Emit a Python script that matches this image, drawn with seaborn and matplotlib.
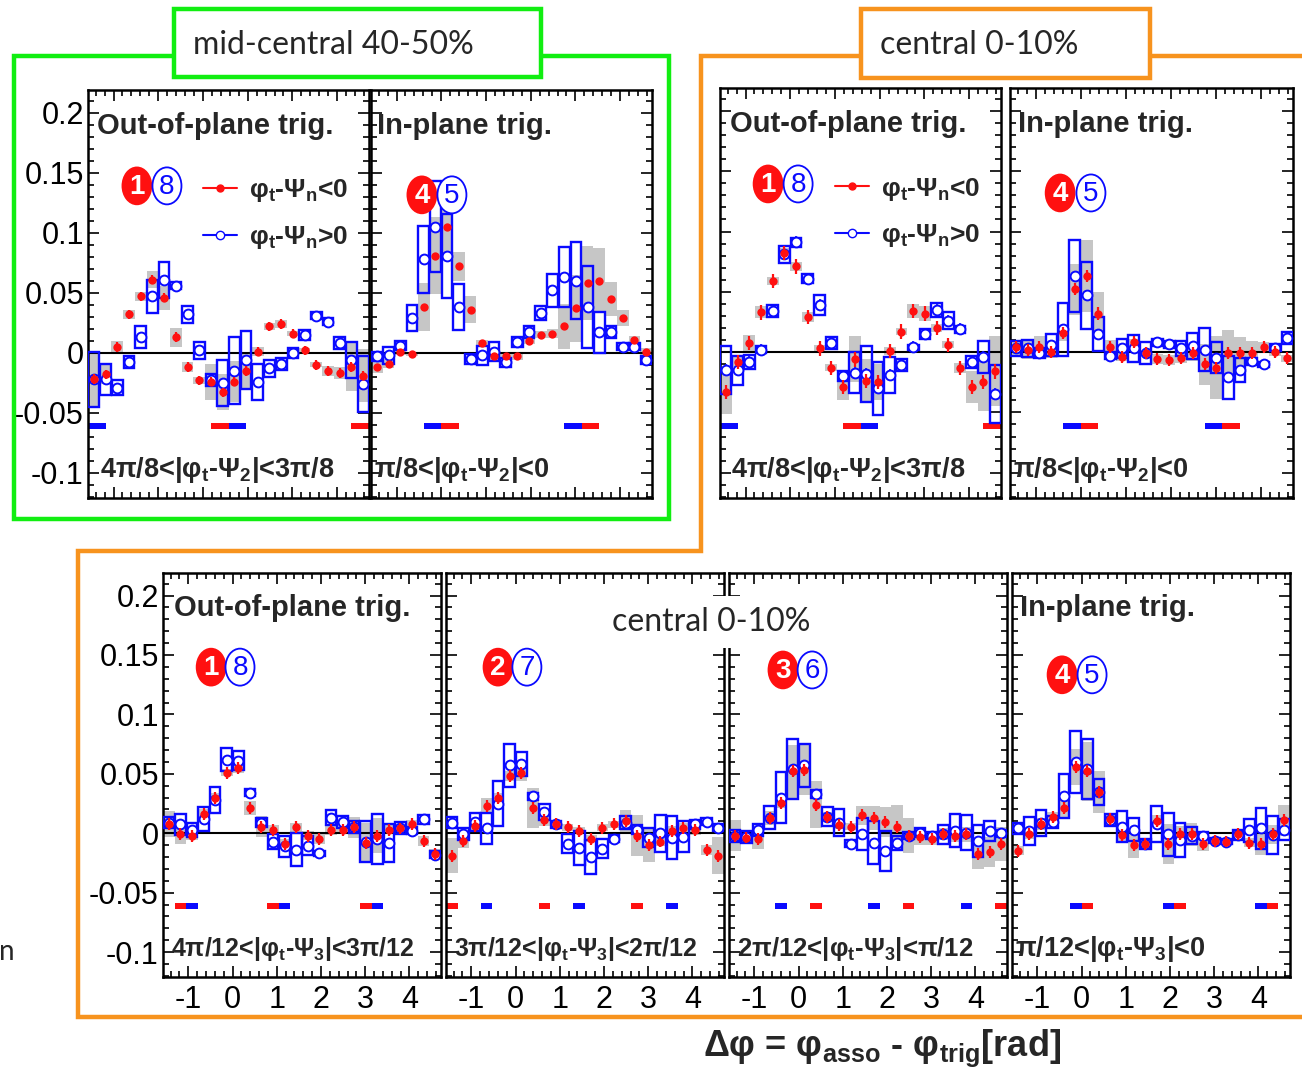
import numpy as np
import matplotlib
matplotlib.use("Agg")
import matplotlib.pyplot as plt
from matplotlib.patches import Rectangle, Ellipse
from matplotlib.lines import Line2D
from matplotlib.ticker import MultipleLocator, FuncFormatter
import seaborn as sns

W, H = 1302, 1081
PI = np.pi

# Δφ bin centres: 24 bins of width π/12 covering [-π/2, 3π/2)
dphi = -PI / 2 + PI / 24 + np.arange(24) * PI / 12

# ---------------- mid-central 40-50 %, Ψ2, out-of-plane trigger ----------------
mid_oop_red = [-0.022, -0.018, 0.005, 0.032, 0.047, 0.061, 0.046, 0.013, -0.012, -0.023, -0.024, -0.033,
               -0.024, -0.015, 0.001, 0.022, 0.024, 0.016, 0.002, -0.010, -0.015, -0.017, -0.012, -0.019]
mid_oop_red_sys = [0.023, 0.008, 0.005, 0.004, 0.004, 0.007, 0.010, 0.008, 0.004, 0.003, 0.015, 0.015,
                   0.017, 0.014, 0.004, 0.003, 0.003, 0.002, 0.002, 0.002, 0.004, 0.005, 0.020, 0.022]
mid_oop_blue = [-0.022, -0.022, -0.029, -0.008, 0.013, 0.047, 0.061, 0.056, 0.032, 0.002, -0.023, -0.025,
                -0.015, -0.006, -0.024, -0.013, -0.009, 0.000, 0.015, 0.031, 0.026, 0.008, -0.006, -0.026]
mid_oop_blue_sys = [0.023, 0.013, 0.006, 0.005, 0.009, 0.014, 0.015, 0.003, 0.007, 0.007, 0.005, 0.019,
                    0.028, 0.024, 0.015, 0.007, 0.005, 0.004, 0.004, 0.003, 0.003, 0.005, 0.015, 0.023]

# ---------------- mid-central 40-50 %, Ψ2, in-plane trigger ----------------
mid_ip_red = [-0.012, -0.009, 0.001, -0.001, 0.038, 0.081, 0.105, 0.072, 0.036, 0.008, -0.003, -0.003,
              -0.003, 0.010, 0.015, 0.016, 0.022, 0.037, 0.058, 0.060, 0.045, 0.029, 0.011, 0.001]
mid_ip_red_sys = [0.005, 0.004, 0.003, 0.002, 0.020, 0.032, 0.026, 0.012, 0.011, 0.003, 0.003, 0.003,
                  0.003, 0.003, 0.003, 0.004, 0.019, 0.028, 0.031, 0.027, 0.014, 0.007, 0.003, 0.003]
mid_ip_blue = [-0.003, -0.002, 0.006, 0.029, 0.078, 0.105, 0.081, 0.038, -0.005, -0.002, 0.001, -0.008,
               0.009, 0.017, 0.033, 0.052, 0.063, 0.060, 0.038, 0.017, 0.017, 0.005, 0.005, -0.006]
mid_ip_blue_sys = [0.004, 0.007, 0.004, 0.011, 0.028, 0.038, 0.035, 0.019, 0.004, 0.008, 0.008, 0.004,
                   0.004, 0.005, 0.006, 0.014, 0.025, 0.032, 0.034, 0.017, 0.005, 0.003, 0.003, 0.003]

# ---------------- central 0-10 %, Ψ2, out-of-plane trigger ----------------
cen_oop_red = [-0.033, -0.008, 0.0075, 0.033, 0.059, 0.082, 0.071, 0.029, 0.003, -0.013, -0.029, -0.006,
               -0.024, -0.025, 0.001, 0.017, 0.034, 0.032, 0.020, 0.006, -0.013, -0.029, -0.025, -0.016]
cen_oop_red_sys = [0.018, 0.004, 0.007, 0.005, 0.003, 0.004, 0.004, 0.004, 0.003, 0.003, 0.011, 0.019,
                   0.018, 0.015, 0.003, 0.003, 0.006, 0.006, 0.003, 0.003, 0.004, 0.013, 0.024, 0.029]
cen_oop_blue = [-0.015, -0.015, -0.008, 0.002, 0.034, 0.081, 0.091, 0.061, 0.039, 0.0075, -0.020, -0.017,
                -0.018, -0.030, -0.019, -0.0105, 0.004, 0.015, 0.035, 0.026, 0.019, -0.008, -0.004, -0.035]
cen_oop_blue_sys = [0.020, 0.012, 0.006, 0.003, 0.005, 0.007, 0.004, 0.004, 0.008, 0.005, 0.004, 0.017,
                    0.023, 0.022, 0.015, 0.005, 0.002, 0.004, 0.006, 0.007, 0.003, 0.005, 0.013, 0.024]

# ---------------- central 0-10 %, Ψ2, in-plane trigger ----------------
cen_ip_red = [0.004, 0.002, 0.004, 0.000, 0.0155, 0.052, 0.063, 0.032, 0.004, -0.004, 0.008, -0.001,
              -0.0056, -0.0067, -0.0047, -0.001, -0.010, -0.013, -0.001, -0.0006, -0.0006, 0.004, 0.000, -0.005]
cen_ip_red_sys = [0.006, 0.008, 0.009, 0.005, 0.006, 0.021, 0.030, 0.018, 0.006, 0.003, 0.003, 0.003,
                  0.004, 0.004, 0.004, 0.006, 0.017, 0.026, 0.019, 0.013, 0.010, 0.004, 0.003, 0.003]
cen_ip_blue = [0.003, 0.003, -0.0006, 0.0056, 0.019, 0.063, 0.047, 0.015, -0.003, 0.003, 0.003, -0.001,
               0.008, 0.0064, 0.003, 0.005, 0.002, -0.0047, -0.021, -0.015, -0.0075, -0.010, 0.0036, 0.012]
cen_ip_blue_sys = [0.006, 0.007, 0.004, 0.009, 0.022, 0.030, 0.028, 0.014, 0.003, 0.008, 0.011, 0.009,
                   0.003, 0.003, 0.006, 0.011, 0.018, 0.013, 0.018, 0.010, 0.003, 0.002, 0.003, 0.005]

# ---------------- central 0-10 %, Ψ3, four trigger slices ----------------
psi3_s1_red = [0.008, -0.001, -0.002, 0.016, 0.030, 0.051, 0.055, 0.021, 0.0056, 0.003, -0.009, 0.005,
               -0.002, -0.005, 0.0025, 0.003, 0.005, -0.008, -0.002, 0.003, 0.004, 0.0075, -0.0064, -0.0175]
psi3_s1_red_sys = [0.011, 0.008, 0.004, 0.004, 0.004, 0.003, 0.004, 0.006, 0.009, 0.004, 0.004, 0.004,
                   0.004, 0.004, 0.004, 0.004, 0.009, 0.017, 0.015, 0.004, 0.004, 0.004, 0.004, 0.004]
psi3_s1_blue = [0.009, 0.0075, 0.003, 0.0117, 0.028, 0.062, 0.061, 0.034, 0.009, -0.007, -0.011, -0.014,
                -0.0105, -0.017, 0.013, 0.0094, 0.005, -0.007, -0.0045, -0.008, 0.0047, 0.002, 0.0117, -0.018]
psi3_s1_blue_sys = [0.005, 0.009, 0.006, 0.010, 0.011, 0.010, 0.008, 0.003, 0.004, 0.006, 0.0086, 0.014,
                    0.008, 0.002, 0.0064, 0.005, 0.005, 0.017, 0.021, 0.016, 0.005, 0.003, 0.004, 0.003]

psi3_s2_red = [-0.019, -0.0064, 0.006, 0.023, 0.030, 0.048, 0.051, 0.021, 0.011, 0.0075, 0.005, 0.002,
               -0.0045, 0.0047, 0.0075, 0.010, -0.002, -0.010, -0.007, 0.002, 0.0047, 0.0025, -0.014, -0.019]
psi3_s2_red_sys = [0.0146, 0.006, 0.004, 0.0065, 0.004, 0.004, 0.0067, 0.017, 0.005, 0.003, 0.003, 0.003,
                   0.003, 0.003, 0.003, 0.0097, 0.017, 0.0146, 0.004, 0.004, 0.004, 0.004, 0.004, 0.0155]
psi3_s2_blue = [0.009, -0.001, 0.0097, 0.004, 0.025, 0.057, 0.058, 0.031, 0.018, 0.0075, -0.009, -0.0125,
                -0.020, -0.013, -0.0045, 0.009, 0.003, -0.0036, 0.000, -0.0036, -0.003, 0.0075, 0.0097, 0.0047]
psi3_s2_blue_sys = [0.005, 0.005, 0.0076, 0.013, 0.019, 0.018, 0.010, 0.003, 0.007, 0.003, 0.008, 0.0146,
                    0.0146, 0.008, 0.003, 0.0055, 0.004, 0.008, 0.0156, 0.018, 0.013, 0.004, 0.003, 0.003]

psi3_s3_red = [-0.002, -0.0036, -0.0045, 0.013, 0.0255, 0.052, 0.053, 0.024, 0.0136, 0.0067, 0.0056, 0.015,
               0.013, 0.0094, 0.0056, -0.002, -0.003, -0.0045, -0.001, -0.002, -0.001, -0.0175, -0.016, -0.009]
psi3_s3_red_sys = [0.013, 0.005, 0.0086, 0.006, 0.004, 0.022, 0.021, 0.020, 0.004, 0.003, 0.003, 0.008,
                   0.010, 0.0125, 0.018, 0.015, 0.007, 0.005, 0.005, 0.005, 0.006, 0.0125, 0.0125, 0.014]
psi3_s3_blue = [-0.002, -0.003, 0.003, 0.013, 0.030, 0.054, 0.057, 0.033, 0.014, 0.009, -0.009, -0.001,
                -0.008, -0.015, -0.008, -0.002, 0.0006, -0.002, -0.001, 0.002, 0.0006, -0.0064, 0.002, 0.000]
psi3_s3_blue_sys = [0.005, 0.005, 0.005, 0.0095, 0.0215, 0.025, 0.018, 0.003, 0.0083, 0.011, 0.003, 0.0135,
                    0.018, 0.0167, 0.006, 0.003, 0.004, 0.003, 0.008, 0.014, 0.015, 0.0135, 0.0086, 0.003]

psi3_s4_red = [-0.0147, -0.001, 0.0075, 0.014, 0.021, 0.056, 0.052, 0.0345, 0.012, -0.0017, -0.010, -0.009,
               0.010, -0.009, -0.001, -0.001, -0.009, -0.0064, -0.007, -0.001, -0.008, -0.009, -0.001, 0.011]
psi3_s4_red_sys = [0.004, 0.004, 0.005, 0.004, 0.0076, 0.015, 0.025, 0.0176, 0.005, 0.005, 0.011, 0.004,
                   0.005, 0.017, 0.007, 0.0097, 0.006, 0.003, 0.003, 0.004, 0.004, 0.009, 0.008, 0.013]
psi3_s4_blue = [0.004, 0.002, 0.0083, 0.0094, 0.0317, 0.060, 0.054, 0.0345, 0.011, 0.0056, 0.003, -0.009,
                0.0075, -0.001, -0.0056, -0.002, -0.002, -0.0064, -0.007, -0.0014, 0.0025, 0.004, -0.0014, 0.003]
psi3_s4_blue_sys = [0.005, 0.012, 0.011, 0.005, 0.0185, 0.026, 0.025, 0.011, 0.005, 0.0128, 0.0097, 0.004,
                    0.015, 0.018, 0.0146, 0.007, 0.003, 0.002, 0.002, 0.004, 0.0097, 0.017, 0.016, 0.0086]

# statistical errors (red, blue) per panel
stat_err = [(0.004, 0.003), (0.002, 0.002), (0.006, 0.005), (0.005, 0.004),
            (0.005, 0.004), (0.005, 0.004), (0.005, 0.004), (0.005, 0.004)]

# trigger-angle ranges marked under the data: (start, end, colour) in units of π/n
bars_psi2_out = [(-4, -3, "b"), (3, 4, "r"), (4, 5, "b"), (11, 12, "r")]
bars_psi2_in = [(-1, 0, "b"), (0, 1, "r"), (7, 8, "b"), (8, 9, "r")]
bars_psi3_s1 = [(-5, -4, "r"), (-4, -3, "b"), (3, 4, "r"), (4, 5, "b"), (11, 12, "r"), (12, 13, "b")]
bars_psi3_s2 = [(-6, -5, "r"), (-3, -2, "b"), (2, 3, "r"), (5, 6, "b"), (10, 11, "r"), (13, 14, "b")]
bars_psi3_s3 = [(-2, -1, "b"), (1, 2, "r"), (6, 7, "b"), (9, 10, "r"), (14, 15, "b"), (17, 18, "r")]
bars_psi3_s4 = [(-1, 0, "b"), (0, 1, "r"), (7, 8, "b"), (8, 9, "r"), (15, 16, "b"), (16, 17, "r")]

x_ticks = [-1, 0, 1, 2, 3, 4]
y_ticks = [-0.1, -0.05, 0, 0.05, 0.1, 0.15, 0.2]

RED = "#ff1010"
BLUE = "#0a0aff"
GRAY = "#c6c6c6"
GREEN = "#11ee11"
ORANGE = "#f7931e"

sns.set_style("ticks")
plt.rcParams.update({
    "font.family": ["Liberation Sans", "DejaVu Sans"],
    "mathtext.fontset": "custom",
    "mathtext.rm": "Liberation Sans",
    "mathtext.it": "Liberation Sans:italic",
    "mathtext.bf": "Liberation Sans:bold",
    "mathtext.sf": "Liberation Sans",
    "mathtext.default": "bf",
    "axes.unicode_minus": False,
    "axes.linewidth": 1.8,
    "axes.edgecolor": "black",
})

fig = plt.figure(figsize=(W / 100, H / 100), dpi=100)
fig.patch.set_facecolor("white")


def fx(x):
    return x / W


def fy(y):
    return 1 - y / H


def px_axes(x0, y0, x1, y1):
    return fig.add_axes([fx(x0), fy(y1), (x1 - x0) / W, (y1 - y0) / H])


def tick_fmt(v, _):
    v = round(v, 3)
    if v == 0:
        return "0"
    return "%g" % v


panels = [
    dict(box=(88, 90, 369, 498), red=mid_oop_red, red_sys=mid_oop_red_sys, blue=mid_oop_blue,
         blue_sys=mid_oop_blue_sys, bars=bars_psi2_out, n=8, title="Out-of-plane trig.", tx=0.032,
         tags=("1", "8"), tag_xy=(0.174, 0.281, 0.765), legend=True, ylab=True, xlab=False,
         label="4π/8<|φ$_{t}$-Ψ$_{2}$|<3π/8", lx=0.043, lsize=19.5),
    dict(box=(371, 90, 652, 498), red=mid_ip_red, red_sys=mid_ip_red_sys, blue=mid_ip_blue,
         blue_sys=mid_ip_blue_sys, bars=bars_psi2_in, n=8, title="In-plane trig.", tx=0.02,
         tags=("4", "5"), tag_xy=(0.181, 0.288, 0.743), legend=False, ylab=False, xlab=False,
         label="π/8<|φ$_{t}$-Ψ$_{2}$|<0", lx=0.01, lsize=19.5),
    dict(box=(720, 88, 1001, 498), red=cen_oop_red, red_sys=cen_oop_red_sys, blue=cen_oop_blue,
         blue_sys=cen_oop_blue_sys, bars=bars_psi2_out, n=8, title="Out-of-plane trig.", tx=0.036,
         tags=("1", "8"), tag_xy=(0.171, 0.278, 0.766), legend=True, ylab=False, xlab=False,
         label="4π/8<|φ$_{t}$-Ψ$_{2}$|<3π/8", lx=0.039, lsize=19.5),
    dict(box=(1010, 88, 1293, 498), red=cen_ip_red, red_sys=cen_ip_red_sys, blue=cen_ip_blue,
         blue_sys=cen_ip_blue_sys, bars=bars_psi2_in, n=8, title="In-plane trig.", tx=0.028,
         tags=("4", "5"), tag_xy=(0.177, 0.286, 0.744), legend=False, ylab=False, xlab=False,
         label="π/8<|φ$_{t}$-Ψ$_{2}$|<0", lx=0.01, lsize=19.5),
    dict(box=(163, 573, 441, 977), red=psi3_s1_red, red_sys=psi3_s1_red_sys, blue=psi3_s1_blue,
         blue_sys=psi3_s1_blue_sys, bars=bars_psi3_s1, n=12, title="Out-of-plane trig.", tx=0.04,
         tags=("1", "8"), tag_xy=(0.173, 0.277, 0.767), legend=False, ylab=True, xlab=True,
         label="4π/12<|φ$_{t}$-Ψ$_{3}$|<3π/12", lx=0.028, lsize=18),
    dict(box=(446, 573, 724, 977), red=psi3_s2_red, red_sys=psi3_s2_red_sys, blue=psi3_s2_blue,
         blue_sys=psi3_s2_blue_sys, bars=bars_psi3_s2, n=12, title=None, tx=0.0,
         tags=("2", "7"), tag_xy=(0.187, 0.291, 0.767), legend=False, ylab=False, xlab=True,
         label="3π/12<|φ$_{t}$-Ψ$_{3}$|<2π/12", lx=0.028, lsize=18),
    dict(box=(729, 573, 1007, 977), red=psi3_s3_red, red_sys=psi3_s3_red_sys, blue=psi3_s3_blue,
         blue_sys=psi3_s3_blue_sys, bars=bars_psi3_s3, n=12, title=None, tx=0.0,
         tags=("3", "6"), tag_xy=(0.194, 0.299, 0.760), legend=False, ylab=False, xlab=True,
         label="2π/12<|φ$_{t}$-Ψ$_{3}$|<π/12", lx=0.028, lsize=18.5),
    dict(box=(1012, 573, 1290, 977), red=psi3_s4_red, red_sys=psi3_s4_red_sys, blue=psi3_s4_blue,
         blue_sys=psi3_s4_blue_sys, bars=bars_psi3_s4, n=12, title="In-plane trig.", tx=0.029,
         tags=("4", "5"), tag_xy=(0.180, 0.288, 0.748), legend=False, ylab=False, xlab=True,
         label="π/12<|φ$_{t}$-Ψ$_{3}$|<0", lx=0.01, lsize=19.5),
]


def draw_panel(ax, p, stat):
    red = np.asarray(p["red"])
    red_sys = np.asarray(p["red_sys"])
    blue = np.asarray(p["blue"])
    blue_sys = np.asarray(p["blue_sys"])
    bw = PI / 12

    # systematic uncertainties
    ax.bar(dphi, 2 * red_sys, bottom=red - red_sys, width=bw, color=GRAY, linewidth=0, zorder=1)
    ax.axhline(0, color="black", lw=1.5, zorder=1.5)
    ax.bar(dphi, 2 * blue_sys, bottom=blue - blue_sys, width=bw * 0.92, fill=False,
           edgecolor=BLUE, linewidth=1.7, zorder=3)

    # statistical errors and points
    ax.errorbar(dphi, blue, yerr=stat[1], fmt="none", ecolor=BLUE, elinewidth=1.2, zorder=4)
    sns.scatterplot(x=dphi, y=blue, ax=ax, color=BLUE, facecolor="white", edgecolor=BLUE,
                    s=50, linewidth=1.4, zorder=5, legend=False)
    ax.errorbar(dphi, red, yerr=stat[0], fmt="none", ecolor=RED, elinewidth=1.6, zorder=6)
    sns.scatterplot(x=dphi, y=red, ax=ax, color=RED, s=36, linewidth=0, zorder=7, legend=False)

    # trigger orientation bands
    unit = PI / p["n"]
    for a, b, c in p["bars"]:
        ax.bar(a * unit, 0.005, bottom=-0.0635, width=(b - a) * unit, align="edge",
               color=RED if c == "r" else BLUE, linewidth=0, zorder=2)

    ax.set_xlim(-PI / 2, 3 * PI / 2)
    ax.set_ylim(-0.121, 0.219)
    ax.set_xticks(x_ticks)
    ax.set_yticks(y_ticks)
    ax.xaxis.set_minor_locator(MultipleLocator(0.2))
    ax.yaxis.set_minor_locator(MultipleLocator(0.01))
    ax.yaxis.set_major_formatter(FuncFormatter(tick_fmt))
    ax.xaxis.set_major_formatter(FuncFormatter(tick_fmt))
    ax.tick_params(which="both", direction="in", top=True, right=True, width=1.2, colors="black")
    ax.tick_params(which="major", length=8, labelsize=22, pad=3)
    ax.tick_params(which="minor", length=4)
    ax.tick_params(axis="x", pad=6)
    if not p["ylab"]:
        ax.tick_params(axis="y", labelleft=False)
    if not p["xlab"]:
        ax.tick_params(axis="x", labelbottom=False)
    for s in ax.spines.values():
        s.set_linewidth(1.8)
        s.set_visible(True)
    ax.set_xlabel("")
    ax.set_ylabel("")
    ax.set_facecolor("white")

    if p["title"]:
        ax.text(p["tx"], 0.947, p["title"], transform=ax.transAxes, fontsize=21,
                fontweight="bold", va="top", ha="left", zorder=9)
    ax.text(p["lx"], 0.052, p["label"], transform=ax.transAxes, fontsize=p["lsize"],
            fontweight="bold", va="baseline", ha="left", zorder=9)

    # circled panel numbers
    xr, xb, yt = p["tag_xy"]
    ew, eh = 29 / (p["box"][2] - p["box"][0]), 37 / (p["box"][3] - p["box"][1])
    ax.add_patch(Ellipse((xr, yt), ew, eh, transform=ax.transAxes, fc=RED, ec=RED, lw=1.2, zorder=8))
    ax.add_patch(Ellipse((xb, yt), ew, eh, transform=ax.transAxes, fc="white", ec=BLUE, lw=1.3, zorder=8))
    ax.text(xr, yt - 0.003, p["tags"][0], transform=ax.transAxes, color="white", fontsize=20,
            fontweight="bold", ha="center", va="center", zorder=9)
    ax.text(xb, yt - 0.003, p["tags"][1], transform=ax.transAxes, color=BLUE, fontsize=20,
            fontweight="normal", ha="center", va="center", zorder=9)

    if p["legend"]:
        handles = [Line2D([], [], color=RED, marker="o", markersize=5, lw=1.5, mec=RED),
                   Line2D([], [], color=BLUE, marker="o", markersize=6, lw=1.5, mfc="white", mec=BLUE)]
        labels = ["φ$_{t}$-Ψ$_{n}$<0", "φ$_{t}$-Ψ$_{n}$>0"]
        ax.legend(handles, labels, loc="upper left", bbox_to_anchor=(0.37, 0.812), frameon=False,
                  prop={"weight": "bold", "size": 19}, handlelength=1.3, handletextpad=0.45,
                  labelspacing=0.75, borderaxespad=0)


for p, st in zip(panels, stat_err):
    ax = px_axes(*p["box"])
    draw_panel(ax, p, st)

# ---------------- group frames and labels ----------------
lw_frame = 3.2
fig.add_artist(Rectangle((fx(14), fy(519)), (669 - 14) / W, (519 - 56) / H, transform=fig.transFigure,
                         fill=False, ec=GREEN, lw=lw_frame, zorder=4))
orange_x = [1302, 701, 701, 78, 78, 1302]
orange_y = [56, 56, 551, 551, 1017, 1017]
fig.add_artist(Line2D([fx(v) for v in orange_x], [fy(v) for v in orange_y], transform=fig.transFigure,
                      color=ORANGE, lw=lw_frame, solid_joinstyle="miter", zorder=4))

fig.add_artist(Rectangle((fx(174), fy(77)), (541 - 174) / W, (77 - 9) / H, transform=fig.transFigure,
                         fc="white", ec=GREEN, lw=lw_frame, zorder=5))
fig.add_artist(Rectangle((fx(861), fy(78)), (1150 - 861) / W, (78 - 9) / H, transform=fig.transFigure,
                         fc="white", ec=ORANGE, lw=lw_frame, zorder=5))

fig.text(fx(193), fy(45), "mid-central 40-50%", family=["Lato", "DejaVu Sans"], fontsize=23,
         va="center", ha="left", zorder=6)
fig.text(fx(880), fy(45), "central 0-10%", family=["Lato", "DejaVu Sans"], fontsize=23,
         va="center", ha="left", zorder=6)
fig.text(fx(612), fy(622), "central 0-10%", family=["Lato", "DejaVu Sans"], fontsize=23,
         va="center", ha="left", zorder=6,
         bbox=dict(boxstyle="square,pad=0.35", fc="white", ec="none"))
fig.text(fx(-1), fy(952), "n", family=["Lato", "DejaVu Sans"], fontsize=20, va="center", ha="left")

# common x-axis title
fig.text(fx(703), fy(1056), "Δφ = φ$_{asso}$ - φ$_{trig}$[rad]", fontsize=26,
         fontweight="bold", va="baseline", ha="left")

fig.savefig("out.png", dpi=100, facecolor="white")
